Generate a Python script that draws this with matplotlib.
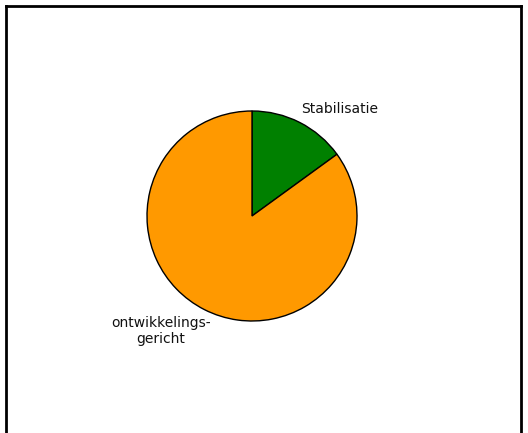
import matplotlib
matplotlib.use("Agg")
import matplotlib.pyplot as plt
from matplotlib.lines import Line2D

labels = ["Stabilisatie", "ontwikkelings-\ngericht"]
values = [15, 85]
colors = ["#008000", "#ff9900"]

W, H = 528, 433
fig = plt.figure(figsize=(W / 100, H / 100), dpi=100)
fig.patch.set_facecolor("white")

# frame (open at bottom)
def px(x, y):
    return x / W, 1 - y / H
for (x0, y0), (x1, y1) in [((6, 433), (6, 5.5)), ((6, 5.5), (520.5, 5.5)), ((520.5, 5.5), (520.5, 433))]:
    a, b = px(x0, y0)
    c, d = px(x1, y1)
    fig.add_artist(Line2D([a, c], [b, d], transform=fig.transFigure, color="black", lw=2.0))

cx, cy, r = 252, 216, 105
ax = fig.add_axes([(cx - r) / W, (H - cy - r) / H, 2 * r / W, 2 * r / H])
ax.pie(values, colors=colors, startangle=90, counterclock=False,
       wedgeprops=dict(edgecolor="black", linewidth=1.0), radius=1)
ax.set_xlim(-1, 1)
ax.set_ylim(-1, 1)
ax.set_aspect("equal")
ax.axis("off")

ax.text(88 / r, 107 / r, labels[0], ha="center", va="center", fontsize=10, color="#111111")
ax.text(-91 / r, -115 / r, labels[1], ha="center", va="center", fontsize=10,
        color="#111111", linespacing=1.2, multialignment="center")

fig.savefig("out.png", dpi=100)
